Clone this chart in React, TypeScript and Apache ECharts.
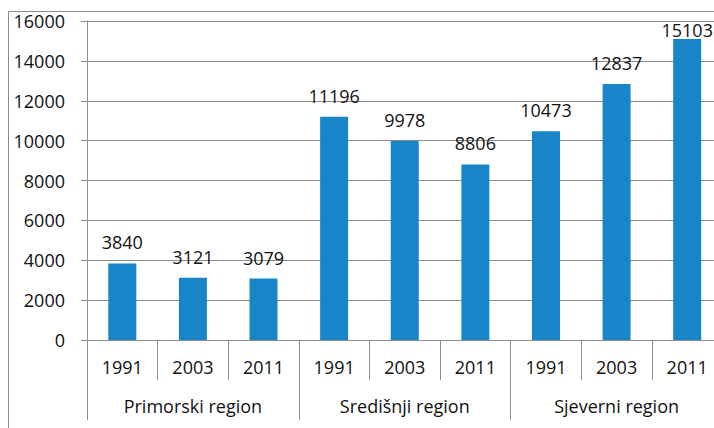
import React, { useEffect, useRef } from "react";
import * as echarts from "echarts";

const years = ["1991", "2003", "2011", "1991", "2003", "2011", "1991", "2003", "2011"];
const regions = ["Primorski region", "Središnji region", "Sjeverni region"];
const values = [3840, 3121, 3079, 11196, 9978, 8806, 10473, 12837, 15103];
const yTicks = { min: 0, max: 16000, interval: 2000 };

const FONT = "'Open Sans', sans-serif";
const GRAY = "#8c8c8c";
const TXT = "#111";
const FS = 18;
const GRID_TOP = 21;

export default function App() {
  const ref = useRef<HTMLDivElement>(null);
  useEffect(() => {
    if (!ref.current) return;
    const chart = echarts.init(ref.current, undefined, { renderer: "svg" });
    chart.setOption({
      animation: false,
      backgroundColor: "#fff",
      textStyle: { fontFamily: FONT },
      graphic: [
        {
          type: "polyline",
          shape: { points: [[8.5, 440], [8.5, 11.5], [730, 11.5]] },
          style: { stroke: GRAY, lineWidth: 1, fill: "none" },
          silent: true,
        },
      ],
      grid: { left: 87, top: GRID_TOP, width: 635.5, height: 319, outerBoundsMode: "none", containLabel: false },
      xAxis: [
        {
          type: "category",
          data: years,
          position: "bottom",
          axisLine: { show: true, lineStyle: { color: GRAY } },
          axisTick: { show: true, length: 40, interval: 0, lineStyle: { color: GRAY } },
          axisLabel: { interval: 0, margin: 18, fontSize: FS, color: TXT, fontFamily: FONT },
        },
        {
          type: "category",
          data: regions,
          position: "bottom",
          axisLine: { show: false },
          axisTick: { show: true, length: 80, interval: 0, lineStyle: { color: GRAY } },
          axisLabel: { interval: 0, margin: 57, fontSize: FS, color: TXT, fontFamily: FONT },
        },
      ],
      yAxis: {
        type: "value",
        min: yTicks.min,
        max: yTicks.max,
        interval: yTicks.interval,
        axisLine: { show: true, lineStyle: { color: GRAY } },
        axisTick: { show: true, length: 6, lineStyle: { color: GRAY } },
        axisLabel: {
          margin: 22,
          fontSize: FS,
          color: TXT,
          fontFamily: FONT,
          formatter: (v: number) => String(v),
        },
        splitLine: { show: true, lineStyle: { color: GRAY, width: 1 } },
      },
      series: [
        {
          type: "bar",
          xAxisIndex: 0,
          data: values,
          barWidth: 28,
          itemStyle: { color: "#1785C7" },
          label: {
            show: true,
            position: "top",
            distance: 12,
            fontSize: FS,
            color: TXT,
            fontFamily: FONT,
          },
          labelLayout: (params: any) => {
            const r = params.labelRect;
            if (r && r.y < GRID_TOP) return { dy: GRID_TOP - r.y };
            return {};
          },
        },
      ],
    });
    return () => chart.dispose();
  }, []);
  return <div ref={ref} style={{ width: 714, height: 428, position: "absolute", left: 0, top: 0 }} />;
}
